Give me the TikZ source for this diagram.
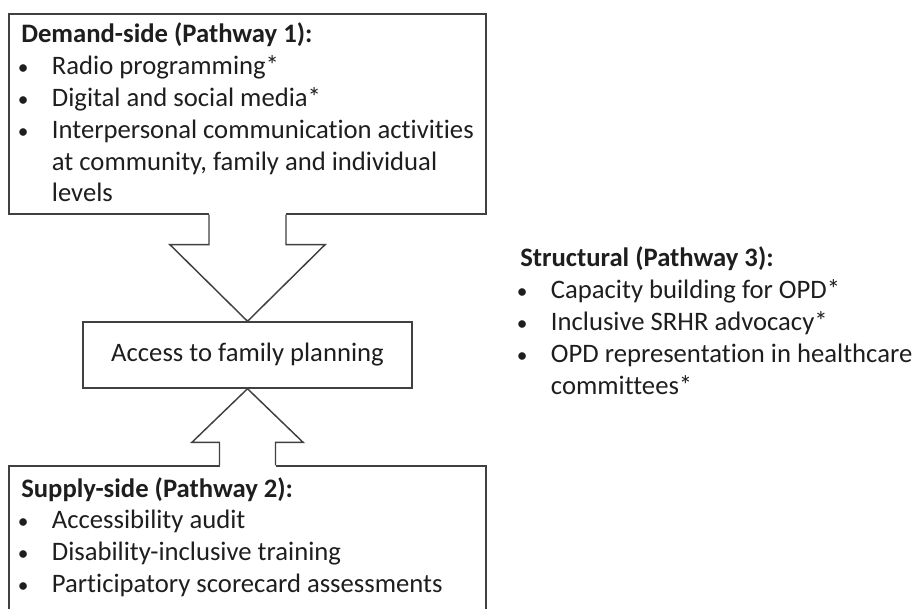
\documentclass[tikz,border=0pt]{standalone}
\usepackage{fontspec}
\setmainfont{Carlito}[Ligatures=NoCommon]
\usetikzlibrary{calc}

\definecolor{boxgray}{HTML}{404040}
\definecolor{textgray}{HTML}{1E1E1E}

% small list bullet
\newcommand{\bul}{\hspace{-2.5pt}{\fontsize{16}{20}\selectfont •}}

\begin{document}
\begin{tikzpicture}[x=0.75pt, y=-0.75pt,
    box/.style={draw=boxgray, line width=1.1pt, inner sep=0pt},
    blockarrow/.style={draw=boxgray, line width=1.1pt, fill=white, line join=miter},
    listtext/.style={font=\fontsize{20}{23.85}\selectfont, text=textgray, inner sep=0pt, anchor=base west},
]

\useasboundingbox (0,0) rectangle (917,609);
\clip (0,0) rectangle (917,609);

% Boxes
\node[box, minimum width=357.75pt, minimum height=150pt] (demand) at (247.5,114) {};
\node[box, minimum width=246.75pt, minimum height=49.5pt, font=\fontsize{20}{23.85}\selectfont, text=textgray] (access) at (247.5,355) {Access to family planning};
\node[box, minimum width=357.75pt, minimum height=120pt] (supply) at (247.5,546) {};

% Block arrows into the middle box
\fill[white] ($(demand.south)+(-38.5,-2)$) rectangle ($(demand.south)+(38.5,2)$);
\draw[blockarrow] ($(demand.south)+(-38.5,0)$) -- ++(0,30) -- ++(-39,0) -- (access.north)
    -- ($(demand.south)+(77.5,30)$) -- ++(-39,0) -- ++(0,-30);

\fill[white] ($(supply.north)+(-28,-2)$) rectangle ($(supply.north)+(28,2)$);
\draw[blockarrow] ($(supply.north)+(-28,0)$) -- ++(0,-23) -- ++(-27.5,0) -- (access.south)
    -- ($(supply.north)+(55.5,-23)$) -- ++(-27.5,0) -- ++(0,23);

% Pathway lists
\node[listtext] (demandlist) at (21,43) {%
  \begin{tabular}[t]{@{}p{23pt}@{}l@{}}
    \multicolumn{2}{@{}l@{}}{\bfseries Demand-side (Pathway 1):}\\
    \bul & Radio programming*\\
    \bul & Digital and social media*\\
    \bul & Interpersonal communication activities\\
         & at community, family and individual\\
         & levels
  \end{tabular}};

\node[listtext] (supplylist) at (21,497) {%
  \begin{tabular}[t]{@{}p{23pt}@{}l@{}}
    \multicolumn{2}{@{}l@{}}{\bfseries Supply-side (Pathway 2):}\\
    \bul & Accessibility audit\\
    \bul & Disability-inclusive training\\
    \bul & Participatory scorecard assessments
  \end{tabular}};

\node[listtext] (structlist) at (520,267) {%
  \begin{tabular}[t]{@{}p{23pt}@{}l@{}}
    \multicolumn{2}{@{}l@{}}{\bfseries Structural (Pathway 3):}\\
    \bul & Capacity building for OPD*\\
    \bul & Inclusive SRHR advocacy*\\
    \bul & OPD representation in healthcare\\
         & committees*
  \end{tabular}};

\end{tikzpicture}
\end{document}
